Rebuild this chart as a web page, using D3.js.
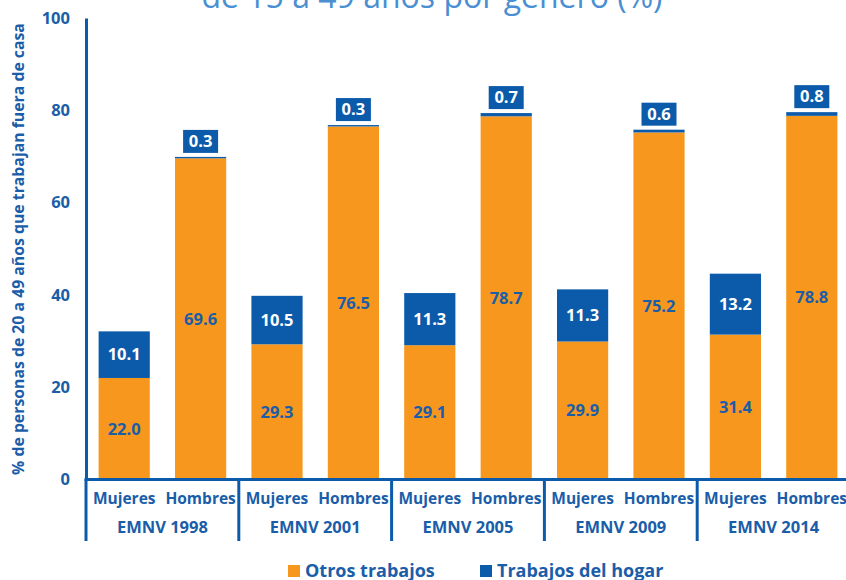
<!DOCTYPE html>
<html>
<head>
<meta charset="utf-8">
<script src="https://cdn.jsdelivr.net/npm/d3@7"></script>
<style>
  body { margin: 0; background: #fff; }
  svg { display: block; font-family: "Open Sans", sans-serif; }
</style>
</head>
<body>
<svg id="chart" width="846" height="580"></svg>
<script>
// Encuestas y géneros
const surveys = ["EMNV 1998", "EMNV 2001", "EMNV 2005", "EMNV 2009", "EMNV 2014"];
const genders = ["Mujeres", "Hombres"];

// Valores (%) por serie
const otrosMujeres = [22.0, 29.3, 29.1, 29.9, 31.4];
const hogarMujeres = [10.1, 10.5, 11.3, 11.3, 13.2];
const otrosHombres = [69.6, 76.5, 78.7, 75.2, 78.8];
const hogarHombres = [0.3, 0.3, 0.7, 0.6, 0.8];

const yTicks = [0, 20, 40, 60, 80, 100];
const seriesNames = ["Otros trabajos", "Trabajos del hogar"];

const orange = "#F7971E";
const blue = "#0B5BAA";
const textBlue = "#1A5DA8";

const svg = d3.select("#chart");

const margin = { top: 18, left: 86 };
const plotBottom = 479.5;
const plotRight = 850;

const x0 = d3.scaleBand()
  .domain(surveys)
  .range([margin.left, plotRight])
  .paddingInner(0)
  .paddingOuter(0);

const x1 = d3.scaleBand()
  .domain(genders)
  .range([0, x0.bandwidth()])
  .paddingInner(0.33)
  .paddingOuter(0.165);

const y = d3.scaleLinear()
  .domain([0, 100])
  .range([plotBottom, margin.top]);

// build rows for stacking
const rows = [];
surveys.forEach((s, i) => {
  rows.push({ survey: s, gender: "Mujeres", otros: otrosMujeres[i], hogar: hogarMujeres[i] });
  rows.push({ survey: s, gender: "Hombres", otros: otrosHombres[i], hogar: hogarHombres[i] });
});

// title (partly cut at the top, as in the original)
svg.append("text")
  .attr("x", 432)
  .attr("y", 8)
  .attr("text-anchor", "middle")
  .attr("font-size", 32)
  .attr("fill", "#4A8FD2")
  .text("de 15 a 49 años por género (%)");

// bars
const bar = svg.append("g").selectAll("g")
  .data(rows)
  .join("g")
  .attr("transform", d => `translate(${x0(d.survey) + x1(d.gender)},0)`);

bar.append("rect")
  .attr("y", d => y(d.otros))
  .attr("width", x1.bandwidth())
  .attr("height", d => y(0) - y(d.otros))
  .attr("fill", orange);

bar.append("rect")
  .attr("y", d => y(d.otros + d.hogar))
  .attr("width", x1.bandwidth())
  .attr("height", d => y(d.otros) - y(d.otros + d.hogar))
  .attr("fill", blue);

// labels for orange segment
bar.append("text")
  .attr("x", x1.bandwidth() / 2)
  .attr("y", d => (y(0) + y(d.otros)) / 2)
  .attr("dy", "0.35em")
  .attr("text-anchor", "middle")
  .attr("font-size", 16.5)
  .attr("font-weight", 700)
  .attr("fill", textBlue)
  .text(d => d.otros.toFixed(1));

// labels for blue segment: inside when big, boxed above when tiny
bar.filter(d => d.hogar >= 5).append("text")
  .attr("x", x1.bandwidth() / 2)
  .attr("y", d => (y(d.otros) + y(d.otros + d.hogar)) / 2)
  .attr("dy", "0.35em")
  .attr("text-anchor", "middle")
  .attr("font-size", 16.5)
  .attr("font-weight", 700)
  .attr("fill", "#fff")
  .text(d => d.hogar.toFixed(1));

const small = bar.filter(d => d.hogar < 5);
small.append("rect")
  .attr("x", x1.bandwidth() / 2 - 17.5)
  .attr("y", d => y(d.otros + d.hogar) - 27)
  .attr("width", 35)
  .attr("height", 23)
  .attr("fill", blue);
small.append("text")
  .attr("x", x1.bandwidth() / 2)
  .attr("y", d => y(d.otros + d.hogar) - 15.5)
  .attr("dy", "0.35em")
  .attr("text-anchor", "middle")
  .attr("font-size", 16.5)
  .attr("font-weight", 700)
  .attr("fill", "#fff")
  .text(d => d.hogar.toFixed(1));

// y axis
const yAxis = svg.append("g")
  .attr("transform", `translate(${margin.left},0)`)
  .call(d3.axisLeft(y).tickValues(yTicks).tickSize(0).tickPadding(16));
yAxis.select(".domain").attr("stroke", blue).attr("stroke-width", 3);
yAxis.selectAll("text")
  .attr("font-family", "Open Sans, sans-serif")
  .attr("font-size", 16.5)
  .attr("font-weight", 700)
  .attr("fill", textBlue);

svg.append("text")
  .attr("transform", `translate(18,249) rotate(-90)`)
  .attr("text-anchor", "middle")
  .attr("dy", "0.35em")
  .attr("font-size", 15.8)
  .attr("font-weight", 700)
  .attr("fill", textBlue)
  .text("% de personas de 20 a 49 años que trabajan fuera de casa");

// x axis line
svg.append("line")
  .attr("x1", margin.left - 1.5)
  .attr("x2", plotRight)
  .attr("y1", y(0))
  .attr("y2", y(0))
  .attr("stroke", blue)
  .attr("stroke-width", 3);

// group separators
const bounds = surveys.map(s => x0(s)).concat([x0.range()[1]]);
svg.append("g").selectAll("line")
  .data(bounds)
  .join("line")
  .attr("x1", d => d)
  .attr("x2", d => d)
  .attr("y1", y(0))
  .attr("y2", 541)
  .attr("stroke", blue)
  .attr("stroke-width", 3);

// gender labels per group
surveys.forEach(s => {
  const g = svg.append("g")
    .attr("transform", `translate(${x0(s)},${y(0)})`)
    .call(d3.axisBottom(x1).tickSize(0).tickPadding(13));
  g.select(".domain").remove();
  g.selectAll("text")
    .attr("font-family", "Open Sans, sans-serif")
    .attr("font-size", 15.5)
    .attr("font-weight", 700)
    .attr("fill", textBlue);
});

// survey labels
const xg = svg.append("g")
  .attr("transform", `translate(0,${y(0) + 42})`)
  .call(d3.axisBottom(x0).tickSize(0).tickPadding(0));
xg.select(".domain").remove();
xg.selectAll("text")
  .attr("font-family", "Open Sans, sans-serif")
  .attr("font-size", 16.5)
  .attr("font-weight", 700)
  .attr("fill", textBlue);

// legend
const legendX = [288, 480];
const legend = svg.append("g").selectAll("g")
  .data(seriesNames)
  .join("g")
  .attr("transform", (d, i) => `translate(${legendX[i]},565)`);
legend.append("rect")
  .attr("width", 12)
  .attr("height", 12)
  .attr("fill", (d, i) => i === 0 ? orange : blue);
legend.append("text")
  .attr("x", 17)
  .attr("y", 6)
  .attr("dy", "0.35em")
  .attr("font-size", 18)
  .attr("font-weight", 700)
  .attr("fill", textBlue)
  .text(d => d);
</script>
</body>
</html>
